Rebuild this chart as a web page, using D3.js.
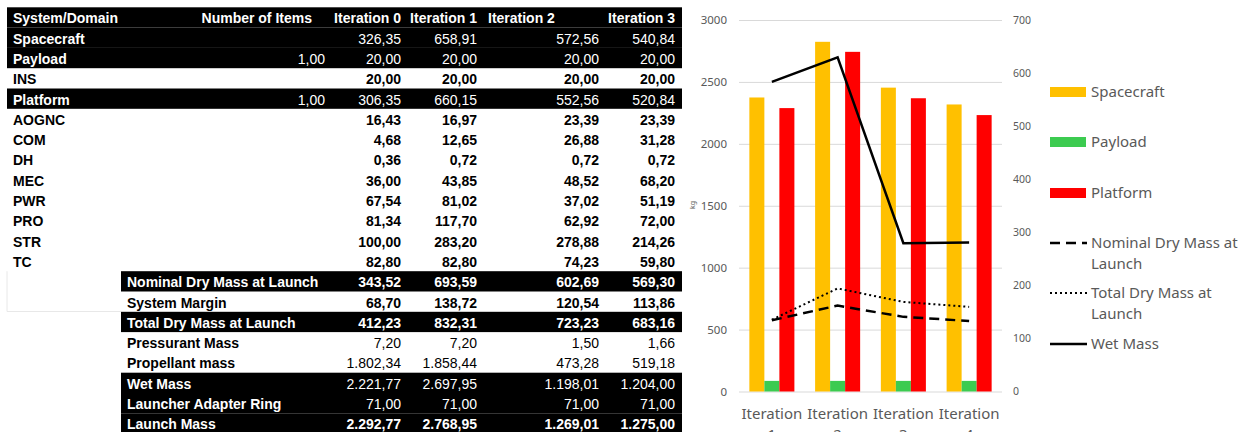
<!DOCTYPE html>
<html>
<head>
<meta charset="utf-8">
<script src="https://cdn.jsdelivr.net/npm/d3@7"></script>
<style>
  body { margin: 0; background: #fff; }
  svg { display: block; }
</style>
</head>
<body>
<script>
// ---- table data ----
var rowLabels = ['System/Domain', 'Spacecraft', 'Payload', 'INS', 'Platform', 'AOGNC', 'COM', 'DH', 'MEC',
    'PWR', 'PRO', 'STR', 'TC', 'Nominal Dry Mass at Launch', 'System Margin', 'Total Dry Mass at Launch',
    'Pressurant Mass', 'Propellant mass', 'Wet Mass', 'Launcher Adapter Ring', 'Launch Mass']
var colHeaders = ['Number of Items', 'Iteration 0', 'Iteration 1', 'Iteration 2', 'Iteration 3']
var numItems = [null, null, 1, null, 1, null, null, null, null, null, null, null, null, null, null, null, null, null, null, null, null]
var iter0 = [null, 326.35, 20, 20, 306.35, 16.43, 4.68, 0.36, 36, 67.54, 81.34, 100, 82.8, 343.52, 68.7, 412.23, 7.2, 1802.34, 2221.77, 71, 2292.77]
var iter1 = [null, 658.91, 20, 20, 660.15, 16.97, 12.65, 0.72, 43.85, 81.02, 117.7, 283.2, 82.8, 693.59, 138.72, 832.31, 7.2, 1858.44, 2697.95, 71, 2768.95]
var iter2 = [null, 572.56, 20, 20, 552.56, 23.39, 26.88, 0.72, 48.52, 37.02, 62.92, 278.88, 74.23, 602.69, 120.54, 723.23, 1.5, 473.28, 1198.01, 71, 1269.01]
var iter3 = [null, 540.84, 20, 20, 520.84, 23.39, 31.28, 0.72, 68.2, 51.19, 72, 214.26, 59.8, 569.3, 113.86, 683.16, 1.66, 519.18, 1204, 71, 1275]

// ---- chart data ----
var iterations = ['Iteration 1', 'Iteration 2', 'Iteration 3', 'Iteration 4']
var spacecraft = [554, 658.91, 572.56, 540.84]
var payload = [20, 20, 20, 20]
var platform = [534, 640, 552.56, 520.84]
var nominalDry = [575, 693.59, 602.69, 569.3]
var totalDry = [580, 832.31, 723.23, 683.16]
var wetMass = [2500, 2697.95, 1198.01, 1204]
var leftTicks = [0, 500, 1000, 1500, 2000, 2500, 3000]
var rightTicks = [0, 100, 200, 300, 400, 500, 600, 700]

// table styling
var darkRows = [0, 1, 2, 4, 13, 15, 18, 19, 20]
var boldValueRows = [3, 5, 6, 7, 8, 9, 10, 11, 12, 13, 14, 15, 20]

var W = 1240, H = 432
var svg = d3.select('body').append('svg')
    .attr('width', W)
    .attr('height', H)

var fmt = d3.formatLocale({ decimal: ',', thousands: '.', grouping: [3], currency: ['', ''] }).format(',.2f')

// ---- table ----
var tbl = svg.append('g').attr('font-family', '"Liberation Sans", Arial, sans-serif').attr('font-size', 14)
var rowTop = 7.3, rowH = 20.3
var colRight = [325, 401, 477, 599, 675]
var valueCols = [numItems, iter0, iter1, iter2, iter3]

// faint border of the empty cell
tbl.append('path')
    .attr('d', `M7,${rowTop + rowH * 13}V311.5H121`)
    .attr('fill', 'none')
    .attr('stroke', '#e8e8e8')

rowLabels.forEach((lab, i) => {
    var y = rowTop + rowH * i
    var x0 = i >= 13 ? 121 : 7
    var dark = darkRows.includes(i)
    var g = tbl.append('g')
    if (dark) {
        g.append('rect')
            .attr('x', x0).attr('y', y)
            .attr('width', 682 - x0).attr('height', rowH)
            .attr('fill', '#000')
    }
    var fg = dark ? '#fff' : '#000'
    g.append('text')
        .attr('x', x0 + 6).attr('y', y + 16)
        .attr('fill', fg)
        .attr('font-weight', 'bold')
        .text(lab)
    if (i === 0) {
        colHeaders.forEach((h, c) => {
            var left = c === 3
            g.append('text')
                .attr('x', c === 0 ? 312 : (left ? 488 : colRight[c]))
                .attr('y', y + 16)
                .attr('text-anchor', left ? 'start' : 'end')
                .attr('fill', fg)
                .attr('font-weight', 'bold')
                .text(h)
        })
        return
    }
    valueCols.forEach((col, c) => {
        if (col[i] == null) return
        g.append('text')
            .attr('x', colRight[c]).attr('y', y + 16)
            .attr('text-anchor', 'end')
            .attr('fill', fg)
            .attr('font-weight', boldValueRows.includes(i) ? 'bold' : 'normal')
            .text(fmt(col[i]))
    })
})

// ---- chart ----
var plot = { left: 739, right: 1002, top: 20, bottom: 391.5 }
var chart = svg.append('g').attr('font-family', '"Noto Sans", sans-serif')

var x = d3.scaleBand().domain(iterations).range([plot.left, plot.right])
var xSub = d3.scaleBand().domain(['Spacecraft', 'Payload', 'Platform'])
    .range([0, x.bandwidth()]).paddingOuter(0.69)
var yL = d3.scaleLinear().domain([0, 3000]).range([plot.bottom, plot.top])
var yR = d3.scaleLinear().domain([0, 700]).range([plot.bottom, plot.top])

// gridlines + left axis
chart.append('g')
    .attr('transform', `translate(${plot.left},0)`)
    .call(d3.axisLeft(yL).tickValues(leftTicks).tickFormat(d3.format('d'))
        .tickSize(-(plot.right - plot.left)).tickPadding(12))
    .call(g => g.select('.domain').remove())
    .call(g => g.selectAll('.tick line').attr('stroke', '#d9d9d9'))
    .call(g => g.selectAll('.tick text').attr('fill', '#595959').attr('font-size', 11.5).attr('font-family', '"Noto Sans", sans-serif'))

// right axis
chart.append('g')
    .attr('transform', `translate(${plot.right},0)`)
    .call(d3.axisRight(yR).tickValues(rightTicks).tickFormat(d3.format('d')).tickSize(0).tickPadding(11))
    .call(g => g.select('.domain').remove())
    .call(g => g.selectAll('.tick text').attr('fill', '#595959').attr('font-size', 10.5).attr('font-family', '"Noto Sans", sans-serif'))

// kg label
chart.append('text')
    .attr('transform', 'translate(695,205) rotate(-90)')
    .attr('text-anchor', 'middle')
    .attr('font-size', 7)
    .attr('fill', '#595959')
    .text('kg')

// bars
var barSeries = [
    { name: 'Spacecraft', values: spacecraft, color: '#FFC000' },
    { name: 'Payload', values: payload, color: '#3CCB50' },
    { name: 'Platform', values: platform, color: '#FF0000' }
]
barSeries.forEach(s => {
    chart.append('g').selectAll('rect')
        .data(s.values)
        .join('rect')
        .attr('x', (d, i) => x(iterations[i]) + xSub(s.name))
        .attr('width', xSub.bandwidth())
        .attr('y', d => yR(d))
        .attr('height', d => yR(0) - yR(d))
        .attr('fill', s.color)
})

// lines
var lineSeries = [
    { name: 'Nominal Dry Mass at Launch', values: nominalDry, dash: '10,6', w: 2.5 },
    { name: 'Total Dry Mass at Launch', values: totalDry, dash: '2,3', w: 2 },
    { name: 'Wet Mass', values: wetMass, dash: null, w: 2.5 }
]
var line = d3.line()
    .x((d, i) => x(iterations[i]) + x.bandwidth() / 2)
    .y(d => yL(d))
lineSeries.forEach(s => {
    chart.append('path')
        .datum(s.values)
        .attr('d', line)
        .attr('fill', 'none')
        .attr('stroke', '#000')
        .attr('stroke-width', s.w)
        .attr('stroke-dasharray', s.dash)
})

// x labels (two lines, second line runs off the bottom edge as in the source)
iterations.forEach(it => {
    var parts = it.split(' ')
    var cx = x(it) + x.bandwidth() / 2
    var t = chart.append('text')
        .attr('x', cx)
        .attr('y', 419)
        .attr('text-anchor', 'middle')
        .attr('font-size', 15)
        .attr('fill', '#595959')
    t.append('tspan').attr('x', cx).text(parts[0])
    t.append('tspan').attr('x', cx).attr('dy', 21).text(parts[1])
})

// legend
var lg = chart.append('g').attr('font-size', 15).attr('fill', '#595959')
var barLegY = [92, 142, 193]
barSeries.forEach((s, i) => {
    lg.append('rect').attr('x', 1050).attr('y', barLegY[i] - 5).attr('width', 36).attr('height', 10).attr('fill', s.color)
    lg.append('text').attr('x', 1091).attr('y', barLegY[i] + 5).text(s.name)
})
var lineLegY = [243, 293, 344]
var lineLegText = [['Nominal Dry Mass at', 'Launch'], ['Total Dry Mass at', 'Launch'], ['Wet Mass']]
lineSeries.forEach((s, i) => {
    lg.append('line')
        .attr('x1', 1050).attr('x2', 1087)
        .attr('y1', lineLegY[i]).attr('y2', lineLegY[i])
        .attr('stroke', '#000')
        .attr('stroke-width', s.w)
        .attr('stroke-dasharray', s.dash)
    var t = lg.append('text').attr('x', 1091).attr('y', lineLegY[i] + 5)
    lineLegText[i].forEach((ln, k) => {
        t.append('tspan').attr('x', 1091).attr('dy', k ? 21 : 0).text(ln)
    })
})
</script>
</body>
</html>
